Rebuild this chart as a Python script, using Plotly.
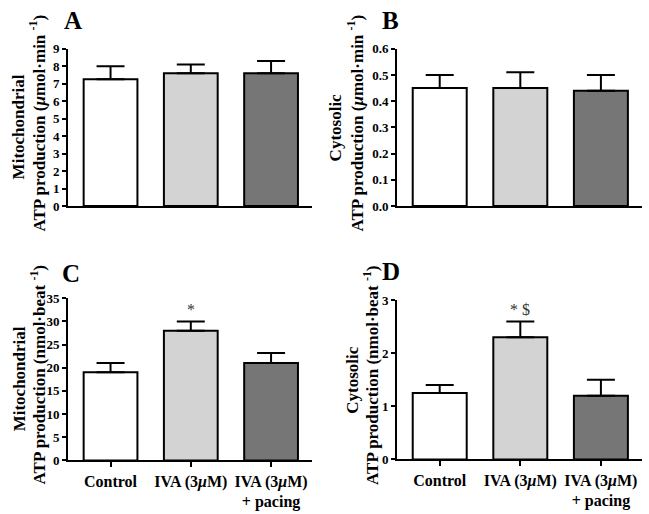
import plotly.graph_objects as go
from plotly.subplots import make_subplots

groups = ["Control", "IVA (3<i>μ</i>M)", "IVA (3<i>μ</i>M)<br>+ pacing"]
bar_colors = ["#ffffff", "#d3d3d3", "#767676"]

mito_min = [7.25, 7.6, 7.6]
mito_min_err = [0.75, 0.5, 0.7]
cyto_min = [0.45, 0.45, 0.44]
cyto_min_err = [0.05, 0.06, 0.06]
mito_beat = [19.0, 28.0, 21.0]
mito_beat_err = [2.0, 2.0, 2.2]
cyto_beat = [1.25, 2.3, 1.2]
cyto_beat_err = [0.15, 0.3, 0.3]

W, H = 649, 514
serif = "Liberation Serif"

fig = make_subplots(rows=2, cols=2)

panels = [
    # (row, col, values, errors, ymax, dtick, fmt, letter, title lines,
    #  x px, y px, title x px, letter pos px)
    (1, 1, mito_min, mito_min_err, 9, 1, "d", "A",
     ["Mitochondrial", "ATP production (<i>μ</i>mol·min <sup>-1</sup>)"],
     (68, 312), (43, 205), (18, 38), (62, 14)),
    (1, 2, cyto_min, cyto_min_err, 0.6, 0.1, ".1f", "B",
     ["Cytosolic", "ATP production (<i>μ</i>mol·min <sup>-1</sup>)"],
     (397, 642), (43, 205), (335, 356), (380, 14)),
    (2, 1, mito_beat, mito_beat_err, 35, 5, "d", "C",
     ["Mitochondrial", "ATP production (nmol·beat <sup>-1</sup>)"],
     (68, 312), (300, 467), (19, 38), (60, 274)),
    (2, 2, cyto_beat, cyto_beat_err, 3, 1, "d", "D",
     ["Cytosolic", "ATP production (nmol·beat <sup>-1</sup>)"],
     (397, 642), (302, 466), (353, 371), (380, 272)),
]

for i, (r, c, vals, errs, ymax, dt, fmt, letter, titles, xp, yp, tx, lp) in enumerate(panels):
    fig.add_trace(go.Bar(
        x=groups, y=vals, width=0.67,
        marker=dict(color=bar_colors, line=dict(color="black", width=2)),
        error_y=dict(type="data", array=errs, arrayminus=[0] * 3, symmetric=False,
                     color="black", thickness=2, width=14),
        showlegend=False, hoverinfo="skip"), row=r, col=c)
    n = i + 1
    xa = "xaxis" if n == 1 else f"xaxis{n}"
    ya = "yaxis" if n == 1 else f"yaxis{n}"
    fig.layout[xa].update(
        domain=[xp[0] / W, xp[1] / W], range=[-0.53, 2.51],
        showline=True, linecolor="black", linewidth=2, showgrid=False,
        ticks="outside" if r == 2 else "", ticklen=5, tickwidth=2, tickcolor="black",
        showticklabels=(r == 2),
        tickfont=dict(family=serif, size=16, color="black", weight="bold"))
    fig.layout[ya].update(
        domain=[1 - yp[1] / H, 1 - yp[0] / H], range=[0, ymax], dtick=dt,
        tickformat=fmt, showline=True, linecolor="black", linewidth=2,
        showgrid=False, zeroline=False, ticks="outside", ticklen=4, tickwidth=2,
        tickcolor="black",
        tickfont=dict(family=serif, size=13, color="black", weight="bold"))
    # panel letter
    fig.add_annotation(text=letter, xref="paper", yref="paper",
                       x=lp[0] / W, y=1 - lp[1] / H,
                       xanchor="left", yanchor="middle", showarrow=False,
                       font=dict(family=serif, size=25, color="black", weight="bold"))
    # axis titles (two lines)
    for k, t in enumerate(titles):
        fig.add_annotation(text=t, xref="paper", yref="paper",
                           x=tx[k] / W, y=1 - ((yp[0] + yp[1]) / 2 - 4 * k) / H,
                           xanchor="center", yanchor="middle", textangle=-90,
                           showarrow=False,
                           font=dict(family=serif, size=17, color="black", weight="bold"))

# significance markers
fig.add_annotation(text="*", x=groups[1], y=mito_beat[1] + mito_beat_err[1],
                   xref="x3", yref="y3", yshift=12, showarrow=False,
                   font=dict(family=serif, size=16, color="#333333"))
fig.add_annotation(text="* $", x=groups[1], y=cyto_beat[1] + cyto_beat_err[1],
                   xref="x4", yref="y4", yshift=12, showarrow=False,
                   font=dict(family=serif, size=16, color="#333333"))

fig.update_layout(width=W, height=H, margin=dict(l=0, r=0, t=0, b=0),
                  plot_bgcolor="white", paper_bgcolor="white", hovermode=False)

fig.write_html("out.html", config={"displayModeBar": False},
               post_script="document.body.style.margin='0';")
